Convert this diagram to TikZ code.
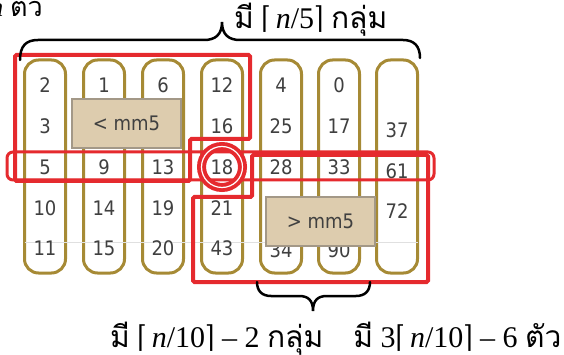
\documentclass[tikz,border=0pt]{standalone}
\usepackage{fontspec}
\setmainfont{Liberation Serif}
\newfontfamily\thaif[Script=Thai]{Loma}
\newfontfamily\numf[FakeStretch=0.9]{DejaVu Sans}
\newfontfamily\symf[FakeStretch=0.8]{DejaVu Serif}
\newcommand{\lc}{{\symf ⌈}}
\newcommand{\rc}{{\symf ⌉}}
\definecolor{colbrown}{HTML}{A68A35}
\definecolor{hired}{HTML}{E52A2E}
\definecolor{tanfill}{HTML}{DDCCAE}
\definecolor{tanline}{HTML}{A39887}
\definecolor{numgray}{HTML}{404040}
\tikzset{
  colbox/.style={draw=colbrown, line width=3pt, fill=white, rounded corners=14pt,
    minimum width=41pt, minimum height=213pt, inner sep=0pt, outer sep=0pt},
  num/.style={font=\numf\fontsize{20}{24}\selectfont, text=numgray, inner sep=0pt},
  tanbox/.style={draw=tanline, fill=tanfill, line width=2pt, minimum width=109pt,
    minimum height=49pt, inner sep=0pt, font=\numf\fontsize{20}{24}\selectfont, text=numgray},
  redpoly/.style={draw=hired, line width=4pt, rounded corners=1.5pt},
  redrow/.style={draw=hired, line width=3pt, rounded corners=6pt},
  lbl/.style={font=\fontsize{30}{34}\selectfont, inner sep=0pt},
  bracesty/.style={draw=black, line width=2.5pt, line cap=round},
  faint/.style={draw=black!12, line width=0.8pt}
}
\begin{document}
\begin{tikzpicture}[x=1pt,y=-1pt]
\useasboundingbox (0,0) rectangle (564,355);

% columns
\foreach \i/\cx in {1/45,2/104,3/163,4/222,5/281,6/339,7/397}{
  \node[colbox] (col\i) at (\cx,166.5) {};
}
\draw[faint] (col1.west |- 0,242) -- (col7.east |- 0,242);

% numbers
\foreach \i/\cx/\a/\b/\c/\d/\e in {1/45/2/3/5/10/11, 4/222/12/16/18/21/43}{
  \node[num] (v\i a) at (\cx,85) {\a};
  \node[num] (v\i b) at (\cx,126) {\b};
  \node[num] (v\i c) at (\cx,167) {\c};
  \node[num] (v\i d) at (\cx,208) {\d};
  \node[num] (v\i e) at (\cx,248) {\e};
}
\foreach \i/\cx/\a/\c/\d/\e in {2/104/1/9/14/15, 3/163/6/13/19/20}{
  \node[num] (v\i a) at (\cx,85) {\a};
  \node[num] (v\i c) at (\cx,167) {\c};
  \node[num] (v\i d) at (\cx,208) {\d};
  \node[num] (v\i e) at (\cx,248) {\e};
}
\foreach \i/\cx/\a/\b/\c/\e in {5/281/4/25/28/34, 6/339/0/17/33/90}{
  \node[num] (v\i a) at (\cx,85) {\a};
  \node[num] (v\i b) at (\cx,126) {\b};
  \node[num] (v\i c) at (\cx,167) {\c};
  \node[num] (v\i e) at (\cx,250) {\e};
}
\node[num] (v7a) at (397,130) {37};
\node[num] (v7b) at (397,171) {61};
\node[num] (v7c) at (397,211) {72};

% tan boxes
\node[tanbox] (lt) at (126.5,123.5) {< mm5};
\node[tanbox] (gt) at (320.5,221.5) {> mm5};

% red regions
\draw[redpoly] (15,55) -- (250,55) -- (250,139) -- (190,139) -- (190,181) -- (15,181) -- cycle;
\draw[redrow] (7,152) rectangle (434,180);
\draw[redpoly] (252,155) -- (428,155) -- (428,282) -- (193,282) -- (193,197) -- (252,197) -- cycle;
\draw[hired, line width=9pt] (v4c.center) circle (20.5pt);
\draw[white, line width=1.2pt] (v4c.center) circle (20.5pt);

% braces
\coordinate (tb1) at (20,60);
\coordinate (tb2) at (420,58);
\coordinate (tbtip) at (222,22);
\draw[bracesty] (tb1) .. controls (20,46) and (26,40) .. (38,40) -- (204,40)
  .. controls (215,40) and (222,35) .. (tbtip)
  .. controls (222,35) and (229,40) .. (240,40) -- (403,40)
  .. controls (414,40) and (420,46) .. (tb2);
\coordinate (bb1) at (257,282);
\coordinate (bb2) at (370,282);
\coordinate (bbtip) at (313,311);
\draw[bracesty] (bb1) .. controls (257,291) and (262,296) .. (271,296) -- (299,296)
  .. controls (308,296) and (313,300) .. (bbtip)
  .. controls (313,300) and (318,296) .. (327,296) -- (356,296)
  .. controls (365,296) and (370,291) .. (bb2);

% labels
\node[lbl, anchor=base west] (toplbl) at (234,29)
  {{\thaif มี} \lc\,\textit{n}/5\rc{} {\thaif กลุ่ม}};
\node[lbl, anchor=base east, font=\fontsize{27}{30}\selectfont] (tllbl) at (43,17)
  {\textit{n} {\thaif ตัว}};
\node[lbl, anchor=base west, text depth=0pt] (botlbl) at (110,347)
  {{\thaif มี} \lc\,\textit{n}/10\rc{} – 2 {\thaif กลุ่ม}\quad{\thaif มี} 3\lc\,\textit{n}/10\rc{} – 6 {\thaif ตัว}};
\end{tikzpicture}
\end{document}
